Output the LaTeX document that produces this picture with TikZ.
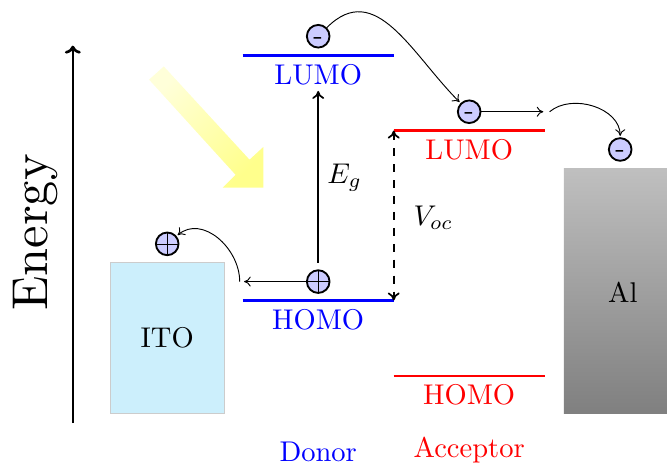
\documentclass[tikz,border=0pt]{standalone}
\usepackage{amsmath, amssymb}
\usepackage{graphicx}
\usepackage{tikz}
\usetikzlibrary{arrows.meta}
\tikzset{
    >={Computer Modern Rightarrow[length=5pt,width=7.5pt]},
    bigtext/.style={scale=2.15, inner sep=0.6pt},
    level/.style={line width=2.2pt},
    gap/.style={line width=1.3pt, >={Computer Modern Rightarrow[length=6pt,width=9pt]}},
    electron/.style={circle, draw, line width=1.4pt, fill=blue!20, minimum size=0.6cm, inner sep=0pt, text height=12pt, text depth=0pt},
    hole/.style={electron, path picture={
        \draw[line width=0.5pt] (path picture bounding box.north) -- (path picture bounding box.south);
        \draw[line width=0.5pt] (path picture bounding box.west) -- (path picture bounding box.east);}},
    hop/.style={->, line width=0.7pt, shorten >=1pt}
}
\begin{document}
\begin{tikzpicture}
    \useasboundingbox (-2.93,-1.33) rectangle (14.74,10.96);
    % Energy axis
    \coordinate (ebottom) at (-1,-0.25);
    \coordinate (etop) at (-1,9.75);
    \draw[->, line width=2pt, >={Computer Modern Rightarrow[length=6pt,width=12pt]}] (ebottom) -- (etop);
    \node[rotate=90, scale=3.8] (energy) at (-2,4.8) {Energy};
    % Electrodes
    \draw[gray!40, fill=cyan!20] (0,0) rectangle (3,4);
    \node[bigtext] (ito) at (1.5,2) {ITO};
    \shade[top color=black!25, bottom color=black!50] (12.01,0) rectangle (14.74,6.5);
    \node[bigtext] (al) at (13.57,3.23) {Al};
    % Light
    \shade[top color=yellow!15, bottom color=yellow!45, shading angle=45]
        (1.02,8.85) -- (1.41,9.2) -- (3.68,6.73) -- (4.05,7.07) -- (4.05,5.99) -- (2.97,5.99) -- (3.31,6.33) -- cycle;
    % Donor levels
    \draw[level, blue] (3.5,9.5) -- (7.5,9.5) node[midway, below=3pt, bigtext] (dlumo) {LUMO};
    \draw[level, blue] (3.5,3) -- (7.5,3) node[midway, below=3pt, bigtext] (dhomo) {HOMO};
    \node[blue, bigtext, inner sep=0pt] (donor) at (5.5,-1) {Donor};
    % Acceptor levels
    \draw[level, red] (7.5,7.5) -- (11.5,7.5) node[midway, below=3pt, bigtext] (alumo) {LUMO};
    \draw[level, red] (7.5,1) -- (11.5,1) node[midway, below=3pt, bigtext] (ahomo) {HOMO};
    \node[red, bigtext, inner sep=0pt] (acceptor) at (9.5,-0.97) {Acceptor};
    % Charges
    \node[electron] (e1) at (5.5,10) {\scalebox{2.15}{-}};
    \node[electron] (e2) at (9.5,8) {\scalebox{2.15}{-}};
    \node[electron] (e3) at (13.5,7) {\scalebox{2.15}{-}};
    \node[hole] (h1) at (5.5,3.5) {};
    \node[hole] (h2) at (1.5,4.5) {};
    % Gap arrows
    \coordinate (gbottom) at (5.5,4);
    \coordinate (gtop) at (5.5,8.55);
    \coordinate (vtop) at (7.5,7.5);
    \coordinate (vbottom) at (7.5,3);
    \draw[->, gap] (gbottom) -- (gtop);
    \node[bigtext] (eg) at (6.2,6.25) {$E_g$};
    \draw[<->, gap, dash pattern=on 6pt off 6pt] (vtop) -- (vbottom);
    \node[bigtext] (voc) at (8.55,5.2) {$V_{oc}$};
    % Hops
    \coordinate (eout) at (11.5,8);
    \coordinate (ein) at (11.63,8);
    \coordinate (hout) at (3.5,3.5);
    \coordinate (hin) at (3.42,3.5);
    \draw[hop] (e1) to[out=45, in=135, looseness=1.15] (e2);
    \draw[hop] (e2) -- (eout);
    \draw[hop] (ein) to[out=40, in=90] (e3);
    \draw[hop] (h1) -- (hout);
    \draw[hop] (hin) to[out=90, in=40, looseness=1.1] (h2);
\end{tikzpicture}
\end{document}
